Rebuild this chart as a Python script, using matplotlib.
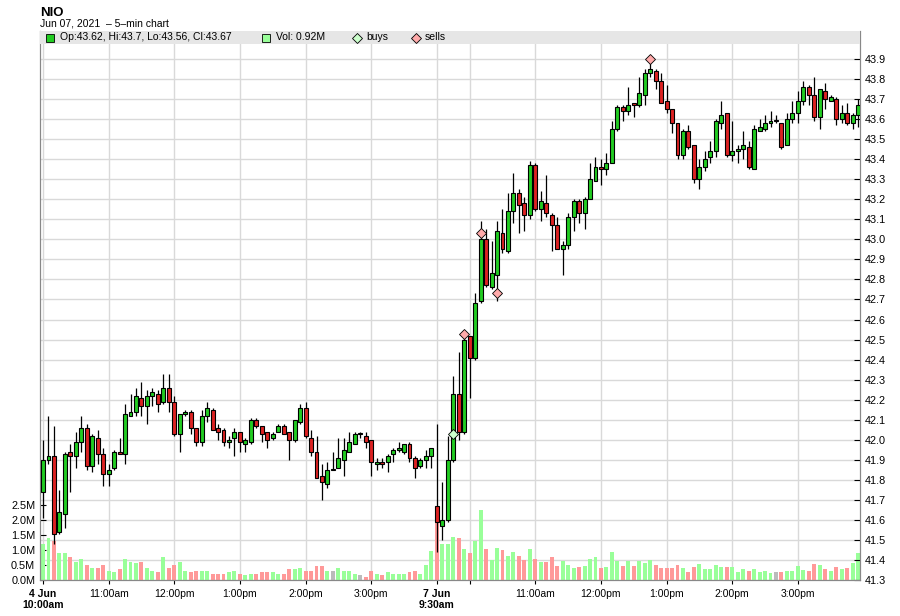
import matplotlib.pyplot as plt
import matplotlib.transforms as mtransforms
from matplotlib.patches import Rectangle
from matplotlib.lines import Line2D
import numpy as np

plt.rcParams['font.family'] = ['Liberation Sans', 'DejaVu Sans']

# 5-min candles, Jun 4 10:00am -> 3:55pm (72), Jun 7 9:30am -> 3:55pm (78)
opens = [41.74, 41.90, 41.92, 41.54, 41.63, 41.94, 41.92, 41.99, 42.06, 41.87,
         42.01, 41.93, 41.83, 41.86, 41.94, 41.93, 42.12, 42.14, 42.21, 42.17,
         42.22, 42.23, 42.19, 42.26, 42.19, 42.03, 42.13, 42.14, 42.06, 41.99,
         42.12, 42.15, 42.06, 42.05, 41.99, 42.01, 42.04, 41.98, 41.99, 42.10,
         42.07, 42.04, 42.01, 42.04, 42.07, 42.04, 42.00, 42.09, 42.16, 42.01,
         41.94, 41.82, 41.78, 41.85, 41.86, 41.90, 41.94, 41.98, 42.03, 42.02,
         42.00, 41.88, 41.89, 41.89, 41.93, 41.95, 41.94, 41.98, 41.91, 41.87,
         41.90, 41.92,
         41.67, 41.57, 41.60, 41.90, 42.23, 42.04, 42.52, 42.41, 42.69, 43.00,
         42.76, 42.82, 43.03, 42.94, 43.14, 43.23, 43.18, 43.12, 43.37, 43.15,
         43.18, 43.12, 43.07, 42.95, 42.97, 43.11, 43.19, 43.13, 43.20, 43.29,
         43.36, 43.35, 43.38, 43.55, 43.66, 43.64, 43.68, 43.67, 43.72, 43.83,
         43.84, 43.79, 43.69, 43.65, 43.58, 43.42, 43.54, 43.47, 43.30, 43.36,
         43.41, 43.44, 43.58, 43.63, 43.42, 43.44, 43.45, 43.46, 43.35, 43.54,
         43.55, 43.58, 43.59, 43.58, 43.47, 43.60, 43.63, 43.69, 43.76, 43.72,
         43.61, 43.74, 43.69, 43.70, 43.60, 43.63, 43.58, 43.62]
highs = [42.00, 42.12, 42.07, 41.75, 41.94, 41.98, 42.04, 42.12, 42.08, 42.03,
         42.05, 41.96, 41.88, 41.95, 42.01, 42.18, 42.23, 42.26, 42.29, 42.25,
         42.26, 42.25, 42.33, 42.33, 42.22, 42.13, 42.15, 42.15, 42.06, 42.15,
         42.19, 42.16, 42.08, 42.06, 42.02, 42.06, 42.04, 42.01, 42.11, 42.11,
         42.07, 42.04, 42.04, 42.08, 42.08, 42.04, 42.10, 42.18, 42.19, 42.05,
         42.02, 41.88, 41.89, 41.94, 42.01, 42.01, 42.04, 42.04, 42.04, 42.04,
         42.00, 41.91, 41.91, 41.93, 41.96, 41.99, 41.98, 41.99, 41.92, 41.91,
         41.95, 41.96,
         42.08, 41.79, 42.02, 42.32, 42.44, 42.51, 42.52, 42.73, 43.09, 43.05,
         42.99, 43.09, 43.15, 43.23, 43.33, 43.25, 43.21, 43.39, 43.38, 43.24,
         43.32, 43.13, 43.11, 42.99, 43.13, 43.20, 43.20, 43.21, 43.38, 43.41,
         43.40, 43.43, 43.59, 43.67, 43.67, 43.76, 43.68, 43.81, 43.85, 43.88,
         43.85, 43.83, 43.77, 43.65, 43.58, 43.55, 43.57, 43.47, 43.40, 43.44,
         43.49, 43.60, 43.69, 43.63, 43.59, 43.47, 43.54, 43.49, 43.57, 43.60,
         43.62, 43.64, 43.62, 43.58, 43.63, 43.69, 43.74, 43.79, 43.77, 43.81,
         43.75, 43.78, 43.72, 43.71, 43.67, 43.68, 43.63, 43.70]
lows = [41.61, 41.88, 41.48, 41.53, 41.56, 41.74, 41.86, 41.94, 41.85, 41.84,
        41.88, 41.77, 41.77, 41.85, 41.93, 41.88, 42.12, 42.12, 42.12, 42.08,
        42.17, 42.14, 42.18, 42.14, 42.02, 41.94, 42.12, 42.03, 41.97, 41.97,
        42.09, 42.05, 42.00, 41.97, 41.96, 41.92, 41.94, 41.94, 41.98, 42.06,
        41.99, 41.96, 42.00, 42.04, 42.03, 41.90, 41.99, 42.08, 42.01, 41.92,
        41.81, 41.70, 41.76, 41.85, 41.86, 41.82, 41.94, 41.98, 42.01, 41.96,
        41.82, 41.85, 41.86, 41.84, 41.89, 41.94, 41.93, 41.89, 41.81, 41.86,
        41.86, 41.86,
        41.44, 41.50, 41.59, 41.89, 42.00, 42.03, 42.21, 42.40, 42.68, 42.76,
        42.75, 42.69, 42.93, 42.93, 43.08, 43.03, 43.04, 43.10, 43.14, 43.09,
        43.11, 42.94, 42.95, 42.82, 42.95, 43.04, 43.08, 43.05, 43.20, 43.29,
        43.27, 43.32, 43.38, 43.54, 43.59, 43.62, 43.61, 43.66, 43.67, 43.81,
        43.75, 43.68, 43.63, 43.53, 43.40, 43.40, 43.45, 43.28, 43.25, 43.34,
        43.38, 43.41, 43.55, 43.41, 43.39, 43.38, 43.40, 43.35, 43.35, 43.54,
        43.54, 43.56, 43.58, 43.45, 43.47, 43.58, 43.58, 43.67, 43.67, 43.59,
        43.55, 43.65, 43.69, 43.57, 43.58, 43.57, 43.55, 43.56]
closes = [41.90, 41.92, 41.53, 41.64, 41.93, 41.92, 41.99, 42.06, 41.87, 42.02,
          41.93, 41.83, 41.85, 41.94, 41.93, 42.13, 42.14, 42.22, 42.17, 42.22,
          42.24, 42.18, 42.26, 42.19, 42.03, 42.13, 42.14, 42.06, 41.99, 42.12,
          42.16, 42.05, 42.04, 41.99, 42.00, 42.04, 41.99, 42.00, 42.10, 42.07,
          42.03, 42.00, 42.03, 42.07, 42.03, 42.00, 42.10, 42.16, 42.02, 41.94,
          41.81, 41.79, 41.85, 41.85, 41.91, 41.95, 41.99, 42.03, 42.03, 41.99,
          41.89, 41.89, 41.88, 41.92, 41.95, 41.96, 41.98, 41.91, 41.86, 41.90,
          41.92, 41.96,
          41.59, 41.60, 41.90, 42.23, 42.04, 42.50, 42.41, 42.68, 43.00, 42.77,
          42.83, 43.04, 42.95, 43.14, 43.23, 43.17, 43.12, 43.37, 43.15, 43.19,
          43.13, 43.07, 42.95, 42.97, 43.11, 43.19, 43.13, 43.20, 43.30, 43.36,
          43.35, 43.38, 43.55, 43.66, 43.64, 43.67, 43.67, 43.73, 43.83, 43.85,
          43.79, 43.68, 43.65, 43.58, 43.42, 43.54, 43.46, 43.30, 43.36, 43.40,
          43.44, 43.59, 43.62, 43.42, 43.44, 43.45, 43.47, 43.36, 43.55, 43.56,
          43.58, 43.59, 43.59, 43.46, 43.60, 43.63, 43.69, 43.76, 43.72, 43.61,
          43.75, 43.70, 43.71, 43.60, 43.63, 43.58, 43.62, 43.67]
# volume in millions
volumes = [1.20, 1.43, 1.30, 0.93, 0.93, 0.77, 0.60, 0.73, 0.53, 0.43,
           0.43, 0.53, 0.33, 0.27, 0.37, 0.70, 0.60, 0.57, 0.60, 0.40,
           0.33, 0.27, 0.77, 0.43, 0.53, 0.60, 0.30, 0.27, 0.30, 0.33,
           0.33, 0.23, 0.23, 0.23, 0.27, 0.30, 0.20, 0.17, 0.23, 0.20,
           0.27, 0.27, 0.27, 0.20, 0.20, 0.37, 0.37, 0.40, 0.30, 0.30,
           0.47, 0.47, 0.33, 0.30, 0.40, 0.33, 0.30, 0.20, 0.17, 0.13,
           0.33, 0.20, 0.17, 0.27, 0.20, 0.20, 0.23, 0.27, 0.33, 0.23,
           0.50, 0.97,
           1.90, 1.20, 1.22, 1.45, 1.42, 1.05, 0.92, 1.33, 2.36, 1.05,
           0.69, 1.07, 1.01, 0.80, 0.95, 0.80, 0.69, 1.05, 0.71, 0.62,
           0.62, 0.78, 0.48, 0.65, 0.52, 0.41, 0.44, 0.48, 0.71, 0.78,
           0.41, 0.44, 0.95, 0.65, 0.48, 0.65, 0.48, 0.65, 0.59, 0.69,
           0.52, 0.41, 0.41, 0.41, 0.52, 0.41, 0.29, 0.44, 0.56, 0.38,
           0.38, 0.52, 0.44, 0.44, 0.44, 0.29, 0.38, 0.31, 0.38, 0.29,
           0.31, 0.26, 0.29, 0.29, 0.31, 0.31, 0.48, 0.35, 0.31, 0.56,
           0.52, 0.38, 0.31, 0.44, 0.38, 0.41, 0.59, 0.92]

buy_idx = [75]
buy_price = [42.03]
sell_idx = [77, 80, 83, 111]
sell_price = [42.53, 43.03, 42.73, 43.90]

tick_idx = [0, 12, 24, 36, 48, 60, 72, 78, 90, 102, 114, 126, 138]
tick_labels = ['4 Jun\n10:00am', '11:00am', '12:00pm', '1:00pm', '2:00pm', '3:00pm',
               '7 Jun\n9:30am', '', '11:00am', '12:00pm', '1:00pm', '2:00pm', '3:00pm']
price_ticks = [round(41.3 + 0.1 * k, 1) for k in range(27)]
vol_ticks = [0.0, 0.5, 1.0, 1.5, 2.0, 2.5]

o = np.array(opens)
h = np.array(highs)
l = np.array(lows)
c = np.array(closes)
v = np.array(volumes)
x = np.arange(len(c))

up = c > o
dn = c < o
body_col = np.where(up, '#22cc22', np.where(dn, '#dd2222', '#888888'))
vol_col = np.where(up, '#99ff99', np.where(dn, '#ff9999', '#bbbbbb'))

W, H = 900, 616
fig = plt.figure(figsize=(W / 100, H / 100), dpi=100)
ax_v = fig.add_axes([40 / W, 35.6 / H, 820 / W, 549.4 / H])
ax_p = ax_v.twinx()

grid_col = '#d9d9d9'
# volume (left axis)
ax_v.bar(x, v, width=0.72, color=vol_col, linewidth=0, zorder=2)
ax_v.set_ylim(0, 549.4 / 30)
ax_v.set_xlim(-0.55, 149.36)
ax_v.set_yticks(vol_ticks)
ax_v.set_yticklabels([f'{t:.1f}M' for t in vol_ticks])
ax_v.set_xticks(tick_idx)
ax_v.set_xticklabels(tick_labels)
for i, lab in enumerate(ax_v.get_xticklabels()):
    if tick_labels[i].count('\n'):
        lab.set_fontweight('bold')
ax_v.set_axisbelow(True)
ax_v.grid(axis='x', color=grid_col, linewidth=1)
# price grid lines drawn under the volume bars
blend = mtransforms.blended_transform_factory(ax_v.transAxes, ax_p.transData)
ax_v.hlines(price_ticks, 0, 1, transform=blend, color=grid_col, linewidth=1, zorder=0.5)

# candles (right axis)
ax_p.vlines(x, l, h, color='black', linewidth=0.9, zorder=2)
ax_p.bar(x, np.maximum(np.abs(c - o), 0.004), bottom=np.minimum(o, c), width=0.72,
         color=body_col, edgecolor='black', linewidth=0.8, zorder=3)
ax_p.plot(buy_idx, buy_price, 'D', ms=5.3, mfc='#ccffcc', mec='black', mew=0.6, zorder=4)
ax_p.plot(sell_idx, sell_price, 'D', ms=5.3, mfc='#ffaaaa', mec='black', mew=0.6, zorder=4)
ax_p.set_ylim(41.298, 44.04)
ax_p.set_xlim(-0.55, 149.36)
ax_p.set_yticks(price_ticks)
ax_p.set_yticklabels([f'{t:.1f}' for t in price_ticks])

for ax in (ax_v, ax_p):
    ax.tick_params(labelsize=7.8, width=0.8, colors='black')
    ax.tick_params(axis='y', direction='in', length=4, pad=3.5)
    for s in ax.spines.values():
        s.set_color('#888888')
    ax.spines['top'].set_visible(False)
ax_v.tick_params(axis='x', direction='out', length=3, pad=3, labelsize=7.5)

# legend band along the top of the plot
ax_p.add_patch(Rectangle((0, 1 - 13 / 549.4), 1, 13 / 549.4, transform=ax_p.transAxes,
                         facecolor='#e6e6e6', edgecolor='none', zorder=6, clip_on=False))


def fx(px):
    return px / W


def fy(py):
    return 1 - py / H


fig.text(fx(40), fy(12.5), 'NIO', fontsize=9.5, fontweight='bold', va='center', ha='left')
fig.text(fx(40), fy(23.5), 'Jun 07, 2021  \u2013 5\u2013min chart', fontsize=7.5,
         va='center', ha='left')

leg_y = fy(37.5)
items = [
    (50, 's', '#22cc22', 5.5, 60, f'Op:{opens[-1]:.2f}, Hi:{highs[-1]:.1f}, Lo:{lows[-1]:.2f}, Cl:{closes[-1]:.2f}'),
    (266, 's', '#99ff99', 5.5, 276, f'Vol: {volumes[-1]:.2f}M'),
    (357, 'D', '#ccffcc', 4.6, 366, 'buys'),
    (416, 'D', '#ffaaaa', 4.6, 425, 'sells'),
]
for mx, mk, col, ms, tx, txt in items:
    fig.add_artist(Line2D([fx(mx)], [leg_y], marker=mk, ms=ms, mfc=col, mec='black',
                          mew=0.6, linestyle='none', zorder=10))
    fig.text(fx(tx), leg_y, txt, fontsize=7.5, va='center', ha='left', zorder=10)

fig.savefig('out.png', dpi=100)
